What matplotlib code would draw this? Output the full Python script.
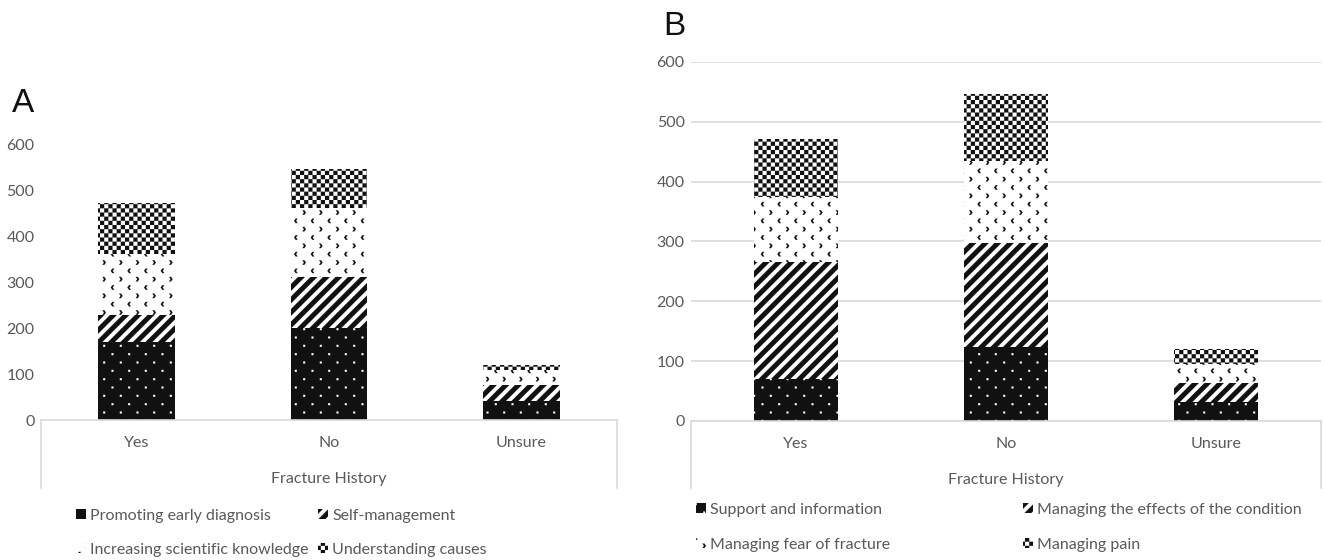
import numpy as np
import matplotlib
matplotlib.use("Agg")
import matplotlib.pyplot as plt
import matplotlib.hatch as mhatch
from matplotlib.path import Path
from matplotlib.patches import Patch

# ---------------- data ----------------
categories = ["Yes", "No", "Unsure"]
x_label = "Fracture History"

a_labels = ["Promoting early diagnosis", "Self-management",
            "Increasing scientific knowledge", "Understanding causes"]
a_promoting = [170, 200, 41]
a_self_management = [60, 113, 35]
a_knowledge = [132, 149, 33]
a_causes = [111, 85, 12]

b_labels = ["Support and information", "Managing the effects of the condition",
            "Managing fear of fracture", "Managing pain"]
b_support = [70, 123, 32]
b_effects = [196, 175, 32]
b_fear = [108, 136, 31]
b_pain = [98, 113, 26]

y_ticks = [0, 100, 200, 300, 400, 500, 600]

# ---------------- custom hatch patterns (Excel-like fills) ----------------
MOVE, LINE, CLOSE = Path.MOVETO, Path.LINETO, Path.CLOSEPOLY


class _Custom(mhatch.HatchPatternBase):
    char = ""

    def __init__(self, hatch, density):
        if self.char and hatch.count(self.char):
            v, c = self.build()
            self._v = np.asarray(v, float)
            self._c = np.asarray(c, dtype=Path.code_type)
            self.num_vertices = len(self._v)
        else:
            self.num_vertices = 0

    def set_vertices_and_codes(self, vertices, codes):
        vertices[:] = self._v
        codes[:] = self._c


def _lattice():
    pts = []
    for j in range(12):
        for k in range(6):
            pts.append(((k + 0.25 + 0.5 * (j % 2)) / 6.0, (j + 0.5) / 12.0, j % 2))
    return pts


class Dots(_Custom):
    char = "."

    def build(self):
        v, c = [], []
        s = 0.02
        for (px, py, _) in _lattice():
            x0, y0 = px - s / 2, py - s / 2
            v += [(x0, y0), (x0 + s, y0), (x0 + s, y0 + s), (x0, y0 + s), (x0, y0)]
            c += [MOVE, LINE, LINE, LINE, CLOSE]
        return v, c


class Chevrons(_Custom):
    char = "*"

    def build(self):
        v, c = [], []
        w, h, t = 0.036, 0.046, 0.02
        for (px, py, odd) in _lattice():
            shape = [(0, 0), (t, 0), (w, h / 2), (t, h), (0, h), (w - t, h / 2)]
            if odd:
                shape = [(w - sx, sy) for sx, sy in shape]
            shape = [(px - w / 2 + sx, py - h / 2 + sy) for sx, sy in shape]
            v += shape + [shape[0]]
            c += [MOVE] + [LINE] * 5 + [CLOSE]
        return v, c


class Bands(_Custom):
    char = "/"

    def build(self):
        v, c = [], []
        n = 8
        w = 0.55 / n
        for a in np.arange(-1.0, 1.0, 1.0 / n):
            v += [(a, 0), (a + w, 0), (a + w + 1, 1), (a + 1, 1), (a, 0)]
            c += [MOVE, LINE, LINE, LINE, CLOSE]
        return v, c


class Checker(_Custom):
    char = "O"

    def build(self):
        v, c = [], []
        n = 24
        s = 1.0 / n
        for i in range(n):
            for j in range(n):
                if (i + j) % 2 == 0:
                    x0, y0 = i * s, j * s
                    v += [(x0, y0), (x0 + s, y0), (x0 + s, y0 + s), (x0, y0 + s), (x0, y0)]
                    c += [MOVE, LINE, LINE, LINE, CLOSE]
        return v, c


mhatch._hatch_types[:] = [Dots, Chevrons, Bands, Checker]

# ---------------- style ----------------
plt.rcParams["font.family"] = ["Lato", "DejaVu Sans"]
plt.rcParams["hatch.linewidth"] = 0.05
GREY = "#595959"
LINE_C = "#d9d9d9"
FS = 11.5

styles = [
    dict(facecolor="#111111", edgecolor="white", hatch="."),
    dict(facecolor="white", edgecolor="#111111", hatch="/"),
    dict(facecolor="white", edgecolor="#111111", hatch="*"),
    dict(facecolor="white", edgecolor="#111111", hatch="O"),
]

W, H = 1324, 560
fig = plt.figure(figsize=(W / 100, H / 100), dpi=100)


def rect(l, r, b, t):
    return [l / W, 1 - b / H, (r - l) / W, (b - t) / H]


def panel(ax, series, labels, grid, box_px):
    x = np.arange(len(categories))
    bottom = np.zeros(len(categories))
    for vals, st, lab in zip(series, styles, labels):
        ax.bar(x, vals, 0.4, bottom=bottom, linewidth=0, label=lab, zorder=2, **st)
        bottom += np.asarray(vals, float)
    ax.set_xlim(-0.5, len(categories) - 0.5)
    ax.set_ylim(0, 600)
    ax.set_yticks(y_ticks)
    ax.set_xticks(x, categories)
    for s in ["top", "right", "left"]:
        ax.spines[s].set_visible(False)
    ax.spines["bottom"].set_color(LINE_C)
    ax.spines["bottom"].set_linewidth(1.2)
    ax.tick_params(length=0, colors=GREY, labelsize=FS)
    ax.tick_params(axis="y", pad=4.5)
    ax.tick_params(axis="x", pad=11.5)
    ax.set_xlabel(x_label, color=GREY, fontsize=FS, labelpad=16)
    if grid:
        ax.yaxis.grid(True, color=LINE_C, linewidth=1.2)
        ax.set_axisbelow(True)
    axh = ax.get_position().height * H
    f = box_px / axh
    for xx in (0, 1):
        ax.plot([xx, xx], [0, -f], transform=ax.transAxes, color=LINE_C,
                lw=1.2, clip_on=False)


axA = fig.add_axes(rect(40.7, 617.3, 420, 145))
panel(axA, [a_promoting, a_self_management, a_knowledge, a_causes], a_labels,
      False, 68)
axB = fig.add_axes(rect(691, 1321, 421, 62))
panel(axB, [b_support, b_effects, b_fear, b_pain], b_labels, True, 67)

fig.text(12 / W, 1 - 112 / H, "A", fontsize=24, family="Liberation Sans",
         color="#111111", va="baseline", ha="left")
fig.text(663 / W, 1 - 35 / H, "B", fontsize=24, family="Liberation Sans",
         color="#111111", va="baseline", ha="left")


def legend_entry(label, st, x_px, y_px):
    h = Patch(facecolor=st["facecolor"], edgecolor=st["edgecolor"],
              hatch=st["hatch"], linewidth=0)
    fig.legend([h], [label], loc="center left",
               bbox_to_anchor=(x_px / W, 1 - y_px / H), frameon=False,
               borderpad=0, borderaxespad=0, handlelength=0.6,
               handleheight=0.6, handletextpad=0.3, fontsize=FS,
               labelcolor=GREY)


# Panel A legend (2 columns x 2 rows)
legend_entry(a_labels[0], styles[0], 76, 516)
legend_entry(a_labels[1], styles[1], 318, 516)
legend_entry(a_labels[2], styles[2], 76, 550)
legend_entry(a_labels[3], styles[3], 318, 550)
# Panel B legend
legend_entry(b_labels[0], styles[0], 696, 510)
legend_entry(b_labels[1], styles[1], 1023, 510)
legend_entry(b_labels[2], styles[2], 696, 545)
legend_entry(b_labels[3], styles[3], 1023, 545)

fig.savefig("out.png", dpi=100)
